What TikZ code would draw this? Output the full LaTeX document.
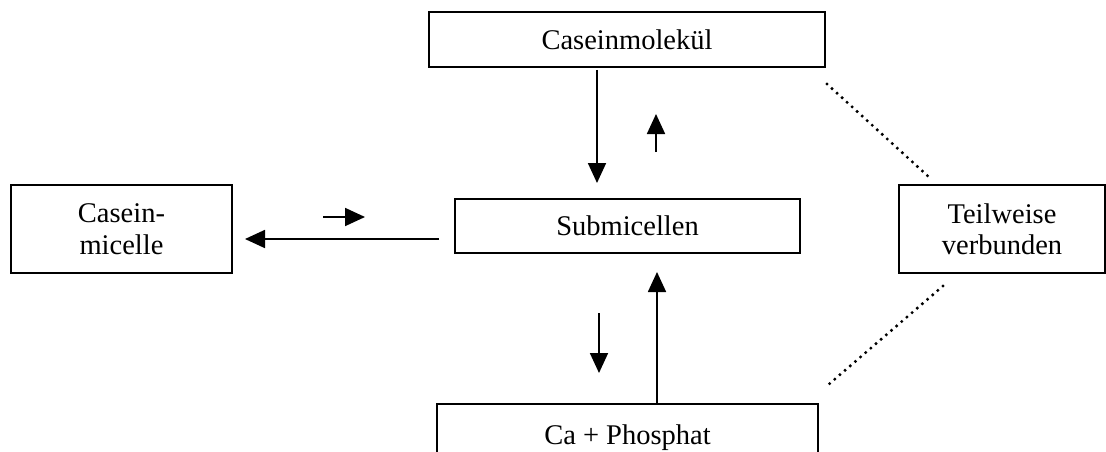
\documentclass[tikz,border=0pt]{standalone}
\usepackage{fontspec}
\setmainfont{Liberation Serif}
\usetikzlibrary{arrows.meta}
\begin{document}
\begin{tikzpicture}[x=1pt,y=-1pt,
  box/.style={draw,line width=1.6pt,inner sep=0pt,align=center,
    font=\fontsize{28.5}{31.5}\selectfont},
  arr/.style={line width=1.8pt,-{Triangle[length=20pt,width=18pt]}},
  dots/.style={line width=3.4pt,line cap=round,dash pattern=on 0pt off 6.8pt}]
\clip (0,0) rectangle (1106,452);
\node[box,minimum width=396pt,minimum height=54.5pt] (mol) at (627,39.5) {Caseinmolekül};
\node[box,minimum width=345pt,minimum height=54pt] (sub) at (627.5,226) {Submicellen};
\node[box,minimum width=221pt,minimum height=88pt] (mic) at (121.5,229) {Casein-\\micelle};
\node[box,minimum width=206pt,minimum height=88pt] (teil) at (1002,229) {Teilweise\\verbunden};
\node[box,minimum width=381pt,minimum height=68pt] (ca) at (627.5,438) {Ca + Phosphat};
% arrow end points
\coordinate (a1s) at (597,70);  \coordinate (a1e) at (597,183);
\coordinate (a2s) at (656,152); \coordinate (a2e) at (656,114);
\coordinate (a3s) at (439,239); \coordinate (a3e) at (245,239);
\coordinate (a4s) at (323,217); \coordinate (a4e) at (365,217);
\coordinate (a5s) at (599,313); \coordinate (a5e) at (599,373);
\coordinate (a6s) at (657,404); \coordinate (a6e) at (657,272);
\coordinate (d1s) at (827,84);  \coordinate (d1e) at (930,178);
\coordinate (d2s) at (943,286); \coordinate (d2e) at (828,385);
\draw[arr] (a1s) -- (a1e);
\draw[arr] (a2s) -- (a2e);
\draw[arr] (a3s) -- (a3e);
\draw[arr] (a4s) -- (a4e);
\draw[arr] (a5s) -- (a5e);
\draw[arr] (a6s) -- (a6e);
\draw[dots] (d1s) -- (d1e);
\draw[dots] (d2s) -- (d2e);
\end{tikzpicture}
\end{document}
